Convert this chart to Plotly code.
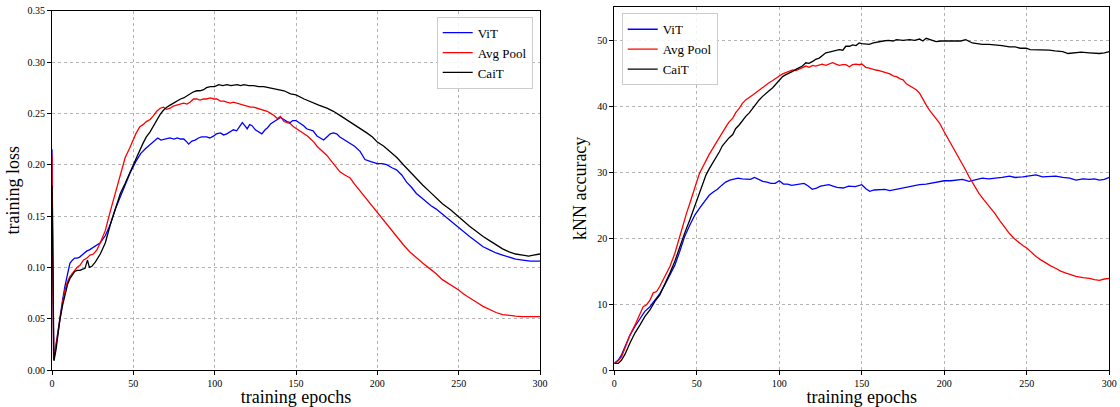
import plotly.graph_objects as go

# ---------------- left panel: training loss ----------------
loss_vit_ep = [0, 1, 2.5, 4.8, 6.5, 8, 9.5, 11, 12.5, 14, 15.5, 17, 18.5, 20, 21.5, 23, 25, 27, 29.7, 32.8,
               35.9, 39, 42, 45, 48, 51.5, 54.6, 57.7, 60.5, 63, 65, 67, 70, 72.5, 75, 77, 79, 81, 83, 84,
               86, 88, 90, 92, 95, 97, 99.5, 101, 103.5, 105.5, 107.5, 109.5, 111.5, 113.5, 115, 117, 118.5,
               120, 121.5, 123, 125, 127, 129, 131, 132.5, 134.5, 136.5, 138.5, 140.5, 142.5, 144.5, 146.5,
               148, 150, 152, 154.7, 156.5, 158.8, 160.5, 162.9, 165, 167, 169, 171, 173, 175, 177, 180,
               183.3, 186, 189.4, 192.4, 196, 200, 203, 205.7, 209, 211.8, 215, 218, 221, 224, 227, 230,
               233, 236, 239, 242.4, 246, 250, 253, 256.7, 261, 265, 269, 273, 277, 281, 285, 289.4, 294, 300]
loss_vit = [0.215, 0.010, 0.025, 0.052, 0.068, 0.082, 0.094, 0.104, 0.107, 0.109, 0.109, 0.110, 0.112, 0.114,
            0.116, 0.117, 0.119, 0.121, 0.124, 0.131, 0.142, 0.157, 0.169, 0.180, 0.192, 0.203, 0.211, 0.216,
            0.220, 0.224, 0.226, 0.224, 0.225, 0.226, 0.225, 0.226, 0.225, 0.225, 0.222, 0.220, 0.223, 0.224,
            0.226, 0.227, 0.227, 0.226, 0.228, 0.230, 0.231, 0.229, 0.230, 0.232, 0.234, 0.233, 0.236, 0.241,
            0.238, 0.235, 0.239, 0.238, 0.234, 0.232, 0.230, 0.234, 0.236, 0.240, 0.242, 0.244, 0.246, 0.244,
            0.242, 0.241, 0.243, 0.243, 0.241, 0.238, 0.235, 0.234, 0.233, 0.228, 0.226, 0.224, 0.227, 0.230,
            0.231, 0.230, 0.227, 0.224, 0.221, 0.218, 0.213, 0.205, 0.203, 0.201, 0.201, 0.200, 0.197, 0.195,
            0.190, 0.183, 0.178, 0.172, 0.168, 0.164, 0.160, 0.157, 0.153, 0.149, 0.144, 0.138, 0.134, 0.130,
            0.125, 0.120, 0.117, 0.114, 0.112, 0.110, 0.108, 0.107, 0.106, 0.106]

loss_avg_ep = [0, 1, 2.5, 4.8, 6.5, 8, 9.5, 11, 12.5, 14, 15.5, 17.2, 19.3, 21.4, 23.4, 25.5, 27.6, 29.7, 32.8,
               35.9, 39, 42, 45, 48, 51.5, 54, 56, 58, 60.3, 62.5, 64.4, 66.5, 68.5, 70.5, 72.6, 74.5, 76.7,
               79, 80.9, 83, 85, 87, 89, 91, 93.2, 95, 97.3, 99.5, 101.4, 103.5, 105.6, 107.5, 109.7, 111.5,
               113.8, 116, 117.9, 120, 122, 124, 126.1, 128, 130.2, 132.3, 134.4, 136.5, 138.5, 140.4, 142.6,
               144.5, 146.5, 148.5, 150.5, 152.5, 154.7, 157, 159, 161, 162.9, 165, 167, 169, 171, 173, 175,
               177, 180, 183.3, 186, 189, 191.4, 195, 200, 204, 207.8, 212, 216, 220, 224, 228, 232, 236, 240,
               245, 250, 253, 256.7, 261, 265, 269, 273, 277, 281, 285, 289, 294, 300]
loss_avg = [0.210, 0.010, 0.024, 0.050, 0.066, 0.078, 0.086, 0.091, 0.094, 0.098, 0.100, 0.102, 0.107, 0.109,
            0.112, 0.113, 0.117, 0.124, 0.136, 0.155, 0.173, 0.191, 0.207, 0.217, 0.230, 0.237, 0.239, 0.242,
            0.244, 0.248, 0.252, 0.255, 0.256, 0.254, 0.255, 0.257, 0.258, 0.259, 0.260, 0.259, 0.261, 0.264,
            0.264, 0.263, 0.264, 0.264, 0.265, 0.264, 0.264, 0.262, 0.262, 0.261, 0.260, 0.261, 0.260, 0.259,
            0.258, 0.257, 0.256, 0.256, 0.255, 0.254, 0.253, 0.252, 0.250, 0.248, 0.245, 0.247, 0.242, 0.241,
            0.240, 0.237, 0.235, 0.233, 0.231, 0.228, 0.225, 0.222, 0.218, 0.215, 0.212, 0.209, 0.205, 0.201,
            0.197, 0.193, 0.190, 0.187, 0.181, 0.175, 0.171, 0.164, 0.154, 0.146, 0.138, 0.130, 0.122, 0.115,
            0.109, 0.104, 0.099, 0.094, 0.088, 0.083, 0.078, 0.074, 0.070, 0.066, 0.062, 0.059, 0.056, 0.054,
            0.053, 0.0525, 0.052, 0.052, 0.052]

loss_cait_ep = [0, 1.2, 2.5, 4.8, 6.5, 8, 9.5, 11, 12.5, 14, 15.5, 17.2, 18.5, 20.3, 21.8, 23, 24.5, 26.6, 29.7,
                32.8, 35.9, 39, 42, 45, 48, 52, 56, 58, 60.3, 62.5, 64.4, 66.5, 68.5, 70.5, 72.6, 74.5, 76.7,
                79, 80.9, 83, 85, 87, 89.1, 91, 93.2, 95, 97.3, 100, 102.5, 105, 107.6, 110, 113.8, 116, 117.9,
                121, 124, 127, 130.2, 133, 136.4, 140, 142.6, 146.7, 150, 155, 159, 164, 169, 173, 177, 181,
                185, 189, 193.5, 197, 200, 204, 207.8, 212, 216, 220, 224, 228, 232, 236, 240, 245, 250, 253,
                256.7, 261, 265, 269, 273, 277, 281, 285, 289.4, 293, 296, 300]
loss_cait = [0.180, 0.009, 0.020, 0.0485, 0.063, 0.0745, 0.083, 0.089, 0.093, 0.096, 0.097, 0.097, 0.098, 0.099,
             0.107, 0.100, 0.101, 0.105, 0.113, 0.124, 0.142, 0.157, 0.172, 0.182, 0.192, 0.207, 0.221, 0.227,
             0.232, 0.238, 0.244, 0.249, 0.253, 0.256, 0.258, 0.260, 0.262, 0.264, 0.265, 0.267, 0.269, 0.271,
             0.272, 0.272, 0.273, 0.275, 0.276, 0.276, 0.278, 0.277, 0.278, 0.277, 0.278, 0.277, 0.278, 0.277,
             0.277, 0.276, 0.276, 0.275, 0.274, 0.273, 0.272, 0.269, 0.268, 0.264, 0.261, 0.258, 0.255, 0.252,
             0.248, 0.244, 0.240, 0.236, 0.231, 0.227, 0.222, 0.218, 0.213, 0.207, 0.200, 0.193, 0.187, 0.180,
             0.174, 0.168, 0.162, 0.156, 0.149, 0.145, 0.140, 0.135, 0.130, 0.126, 0.122, 0.118, 0.115, 0.113,
             0.112, 0.111, 0.112, 0.113]

# ---------------- right panel: kNN accuracy ----------------
knn_vit_ep = [0, 2.4, 4.4, 6.5, 9.5, 12.5, 15.5, 18.5, 21.6, 24.6, 27.6, 30.6, 33.7, 36.7, 39.7, 42.7, 45.8, 48.8,
              51.8, 54.8, 57.5, 60, 62.5, 65, 67.5, 70, 72.5, 75, 77.5, 80, 82.5, 85, 87.5, 90, 92.5, 95, 97.5,
              100, 102.5, 105, 107.5, 110, 112.5, 115, 117.5, 120, 122.5, 125, 127.5, 130, 132.5, 135, 138.7,
              142, 146, 150, 152.5, 154.8, 157.5, 160.9, 164, 167, 169, 172, 175, 177, 181, 185, 189, 193, 197,
              200, 204, 207, 211, 215, 219, 223, 227, 231.5, 235, 239.5, 243, 247.6, 251, 255.6, 259.5, 263.7,
              267.5, 271.8, 276, 279.8, 284, 287.9, 291, 294, 297, 300]
knn_vit = [1.0, 1.5, 2.3, 3.5, 5.3, 6.6, 7.8, 8.9, 9.6, 10.6, 11.6, 12.9, 14.4, 15.9, 18.0, 20.3, 22.0, 23.5,
           24.6, 25.6, 26.5, 27.0, 27.4, 28.0, 28.5, 28.8, 29.0, 29.1, 29.0, 29.0, 28.9, 29.2, 28.9, 28.6, 28.5,
           28.3, 28.3, 28.7, 28.2, 28.2, 28.0, 28.1, 28.2, 28.3, 27.9, 27.4, 27.6, 27.9, 28.0, 28.1, 27.9, 27.7,
           27.6, 27.9, 27.8, 28.1, 27.5, 27.1, 27.3, 27.4, 27.4, 27.2, 27.3, 27.5, 27.6, 27.7, 27.9, 28.1, 28.2,
           28.4, 28.5, 28.7, 28.7, 28.8, 28.9, 28.6, 28.9, 29.1, 29.0, 29.1, 29.2, 29.4, 29.2, 29.3, 29.4, 29.6,
           29.3, 29.3, 29.4, 29.2, 29.1, 28.8, 29.0, 28.9, 29.0, 28.8, 28.9, 29.2]

knn_avg_ep = [0, 2.4, 4.4, 6.5, 9.5, 12.5, 15.5, 17.5, 19.6, 21.6, 23.6, 25.6, 27.6, 30.6, 33.7, 36.7, 39.7, 41.7,
              43.8, 45.8, 48, 50, 51.6, 53.5, 55.6, 57.5, 59.7, 61.5, 63.7, 65.5, 67.7, 69.5, 71.8, 73.5, 75.8,
              77.5, 79.8, 81.8, 83.9, 85.9, 87.9, 89.9, 91.9, 94, 96, 98, 100, 102, 104, 106, 108.1, 110, 112.1,
              114, 116.1, 118, 120.2, 122, 124.2, 126, 128.2, 130.2, 132.3, 134.3, 136.3, 138.5, 140.3, 142.5,
              144.4, 146.5, 148.4, 150, 152.4, 154.5, 156.5, 158.5, 160.5, 163, 164.9, 167, 169, 171, 173, 175,
              177, 179, 181, 183, 185, 187, 189, 191, 193, 195, 197, 200, 202.5, 205, 208, 211, 213, 215, 218,
              221, 224, 227.4, 230.5, 233.5, 236.5, 239.5, 242.5, 245.6, 248, 250, 253, 255.6, 258.5, 261.7,
              264.5, 267.7, 270.5, 273.8, 277, 279.8, 284, 287.9, 291, 294, 297, 300]
knn_avg = [1.0, 1.4, 2.0, 3.3, 5.3, 6.8, 8.4, 9.6, 9.9, 10.6, 11.7, 11.9, 12.7, 14.2, 15.7, 17.7, 20.3, 22.3,
           23.8, 25.3, 27.2, 28.6, 29.8, 30.8, 31.8, 32.7, 33.6, 34.4, 35.2, 36.0, 36.9, 37.6, 38.2, 39.0, 39.7,
           40.4, 41.0, 41.3, 41.7, 42.1, 42.5, 42.9, 43.3, 43.6, 43.9, 44.3, 44.6, 44.9, 45.1, 45.2, 45.5, 45.4,
           45.6, 45.8, 46.1, 45.9, 46.2, 46.1, 46.3, 46.4, 46.2, 46.4, 46.6, 46.4, 46.2, 46.3, 46.3, 46.0, 46.3,
           46.4, 46.3, 46.4, 45.9, 45.8, 45.6, 45.5, 45.4, 45.2, 45.0, 44.9, 44.6, 44.5, 44.2, 44.0, 43.4, 43.1,
           42.8, 42.5, 42.0, 41.0, 40.2, 39.4, 38.8, 38.2, 37.5, 36.1, 35.0, 33.9, 32.6, 31.3, 30.3, 29.3, 28.0,
           26.8, 25.8, 24.8, 23.8, 22.7, 21.6, 20.7, 19.9, 19.2, 18.8, 18.5, 17.8, 17.2, 16.7, 16.2, 15.8, 15.4,
           15.0, 14.7, 14.4, 14.2, 14.0, 13.9, 13.7, 13.6, 13.8, 13.9]

knn_cait_ep = [0, 2.4, 4.4, 6.5, 9.5, 12.5, 15.5, 18.5, 21.6, 24.6, 27.6, 30.6, 33.7, 36.7, 39.7, 42.7, 45.8,
               48.8, 51, 53.5, 55.6, 57.5, 59.7, 61.5, 63.7, 65.5, 67.7, 69.5, 71.8, 73.5, 75.8, 77.5, 79.8,
               81.8, 83.9, 85.9, 87.9, 89.9, 91.9, 94, 96, 98, 100, 102, 104, 106, 108.1, 110, 112.1, 114, 116.1,
               118, 120.2, 122, 124.2, 126, 128.2, 130.2, 132.3, 134.3, 136.3, 138.5, 140.3, 142.7, 144.4, 146.5,
               148.4, 150, 152.4, 154.5, 157, 160, 163, 166, 169, 171, 175, 179, 182, 185, 187, 189, 192, 195,
               198, 200, 203, 207, 210, 213, 215, 217, 220, 223, 227, 231.5, 235, 239.5, 243, 246, 249.6, 252,
               255.6, 259, 263.7, 267, 271.8, 275, 279.8, 283, 287.9, 291, 294, 297, 300]
knn_cait = [1.0, 1.0, 1.5, 2.4, 4.1, 5.6, 6.8, 8.1, 9.1, 10.4, 11.4, 12.9, 14.7, 16.5, 18.7, 20.8, 22.8, 24.8,
            26.4, 28.0, 29.6, 30.5, 31.4, 32.3, 33.1, 34.0, 34.7, 35.2, 35.7, 36.6, 37.2, 37.8, 38.5, 39.0, 39.7,
            40.4, 41.0, 41.5, 42.0, 42.4, 42.8, 43.4, 44.0, 44.5, 44.8, 45.0, 45.3, 45.6, 45.8, 46.1, 46.6, 46.5,
            46.8, 47.1, 47.3, 47.7, 48.1, 48.2, 48.3, 48.4, 48.6, 48.5, 49.1, 49.1, 49.3, 49.2, 49.6, 49.5, 49.5,
            49.4, 49.6, 49.8, 49.9, 50.0, 49.9, 50.1, 50.0, 50.1, 50.0, 50.2, 49.9, 50.3, 50.0, 49.8, 49.9, 49.9,
            49.8, 49.8, 49.9, 50.1, 49.8, 49.6, 49.5, 49.4, 49.4, 49.3, 49.2, 49.0, 49.0, 48.8, 48.8, 48.6, 48.6,
            48.5, 48.5, 48.4, 48.3, 48.0, 48.1, 48.2, 48.1, 48.0, 48.0, 48.1, 48.3]

series_names = ["ViT", "Avg Pool", "CaiT"]
series_colors = ["#0000ff", "#ff0000", "#000000"]
x_ticks = [0, 50, 100, 150, 200, 250, 300]
loss_ticks = [0.00, 0.05, 0.10, 0.15, 0.20, 0.25, 0.30, 0.35]
knn_ticks = [0, 10, 20, 30, 40, 50]

FONT = "Liberation Serif"

fig = go.Figure()
left = [(loss_vit_ep, loss_vit), (loss_avg_ep, loss_avg), (loss_cait_ep, loss_cait)]
right = [(knn_vit_ep, knn_vit), (knn_avg_ep, knn_avg), (knn_cait_ep, knn_cait)]
for (ep, val), name, col in zip(left, series_names, series_colors):
    fig.add_trace(go.Scatter(x=ep, y=val, mode="lines", name=name, line=dict(color=col, width=1.3),
                             xaxis="x", yaxis="y", legend="legend"))
for (ep, val), name, col in zip(right, series_names, series_colors):
    fig.add_trace(go.Scatter(x=ep, y=val, mode="lines", name=name, line=dict(color=col, width=1.3),
                             xaxis="x2", yaxis="y2", legend="legend2"))

W, H = 1120, 407
common_axis = dict(showline=True, mirror=True, linecolor="black", linewidth=1.2,
                   ticks="outside", ticklen=4, tickwidth=1, tickcolor="black",
                   showgrid=True, gridcolor="#b4b4b4", griddash="dot", gridwidth=0.8,
                   zeroline=False, tickfont=dict(family=FONT, size=10, color="black"),
                   automargin=False)

fig.update_layout(
    width=W, height=H,
    margin=dict(l=0, r=0, t=0, b=0),
    paper_bgcolor="white", plot_bgcolor="white",
    font=dict(family=FONT, color="black"),
    xaxis=dict(domain=[52 / W, 540 / W], range=[0, 300], tickvals=x_ticks, anchor="y",
               title=dict(text="training epochs", font=dict(family=FONT, size=18), standoff=5),
               **common_axis),
    yaxis=dict(domain=[1 - 370 / H, 1 - 10.7 / H], range=[0, 0.35], tickvals=loss_ticks,
               tickformat=".2f", anchor="x",
               title=dict(text="training loss", font=dict(family=FONT, size=18), standoff=3),
               **common_axis),
    xaxis2=dict(domain=[614.3 / W, 1109.3 / W], range=[0, 300], tickvals=x_ticks, anchor="y2",
                title=dict(text="training epochs", font=dict(family=FONT, size=18), standoff=5),
                **common_axis),
    yaxis2=dict(domain=[1 - 370 / H, 1 - 6.7 / H], range=[0, 55.1], tickvals=knn_ticks, anchor="x2",
                title=dict(text="kNN accuracy", font=dict(family=FONT, size=18), standoff=5),
                **common_axis),
    legend=dict(x=532.7 / W, y=1 - 16.7 / H, xanchor="right", yanchor="top",
                bgcolor="rgba(255,255,255,0.85)", bordercolor="#cccccc", borderwidth=1,
                font=dict(family=FONT, size=13, color="black"), itemwidth=30, tracegroupgap=0),
    legend2=dict(x=621.7 / W, y=1 - 13.3 / H, xanchor="left", yanchor="top",
                 bgcolor="rgba(255,255,255,0.85)", bordercolor="#cccccc", borderwidth=1,
                 font=dict(family=FONT, size=13, color="black"), itemwidth=30, tracegroupgap=0),
)

fig.write_html("out.html", config={"displayModeBar": False},
               post_script="document.body.style.margin='0';document.body.style.overflow='hidden';")
